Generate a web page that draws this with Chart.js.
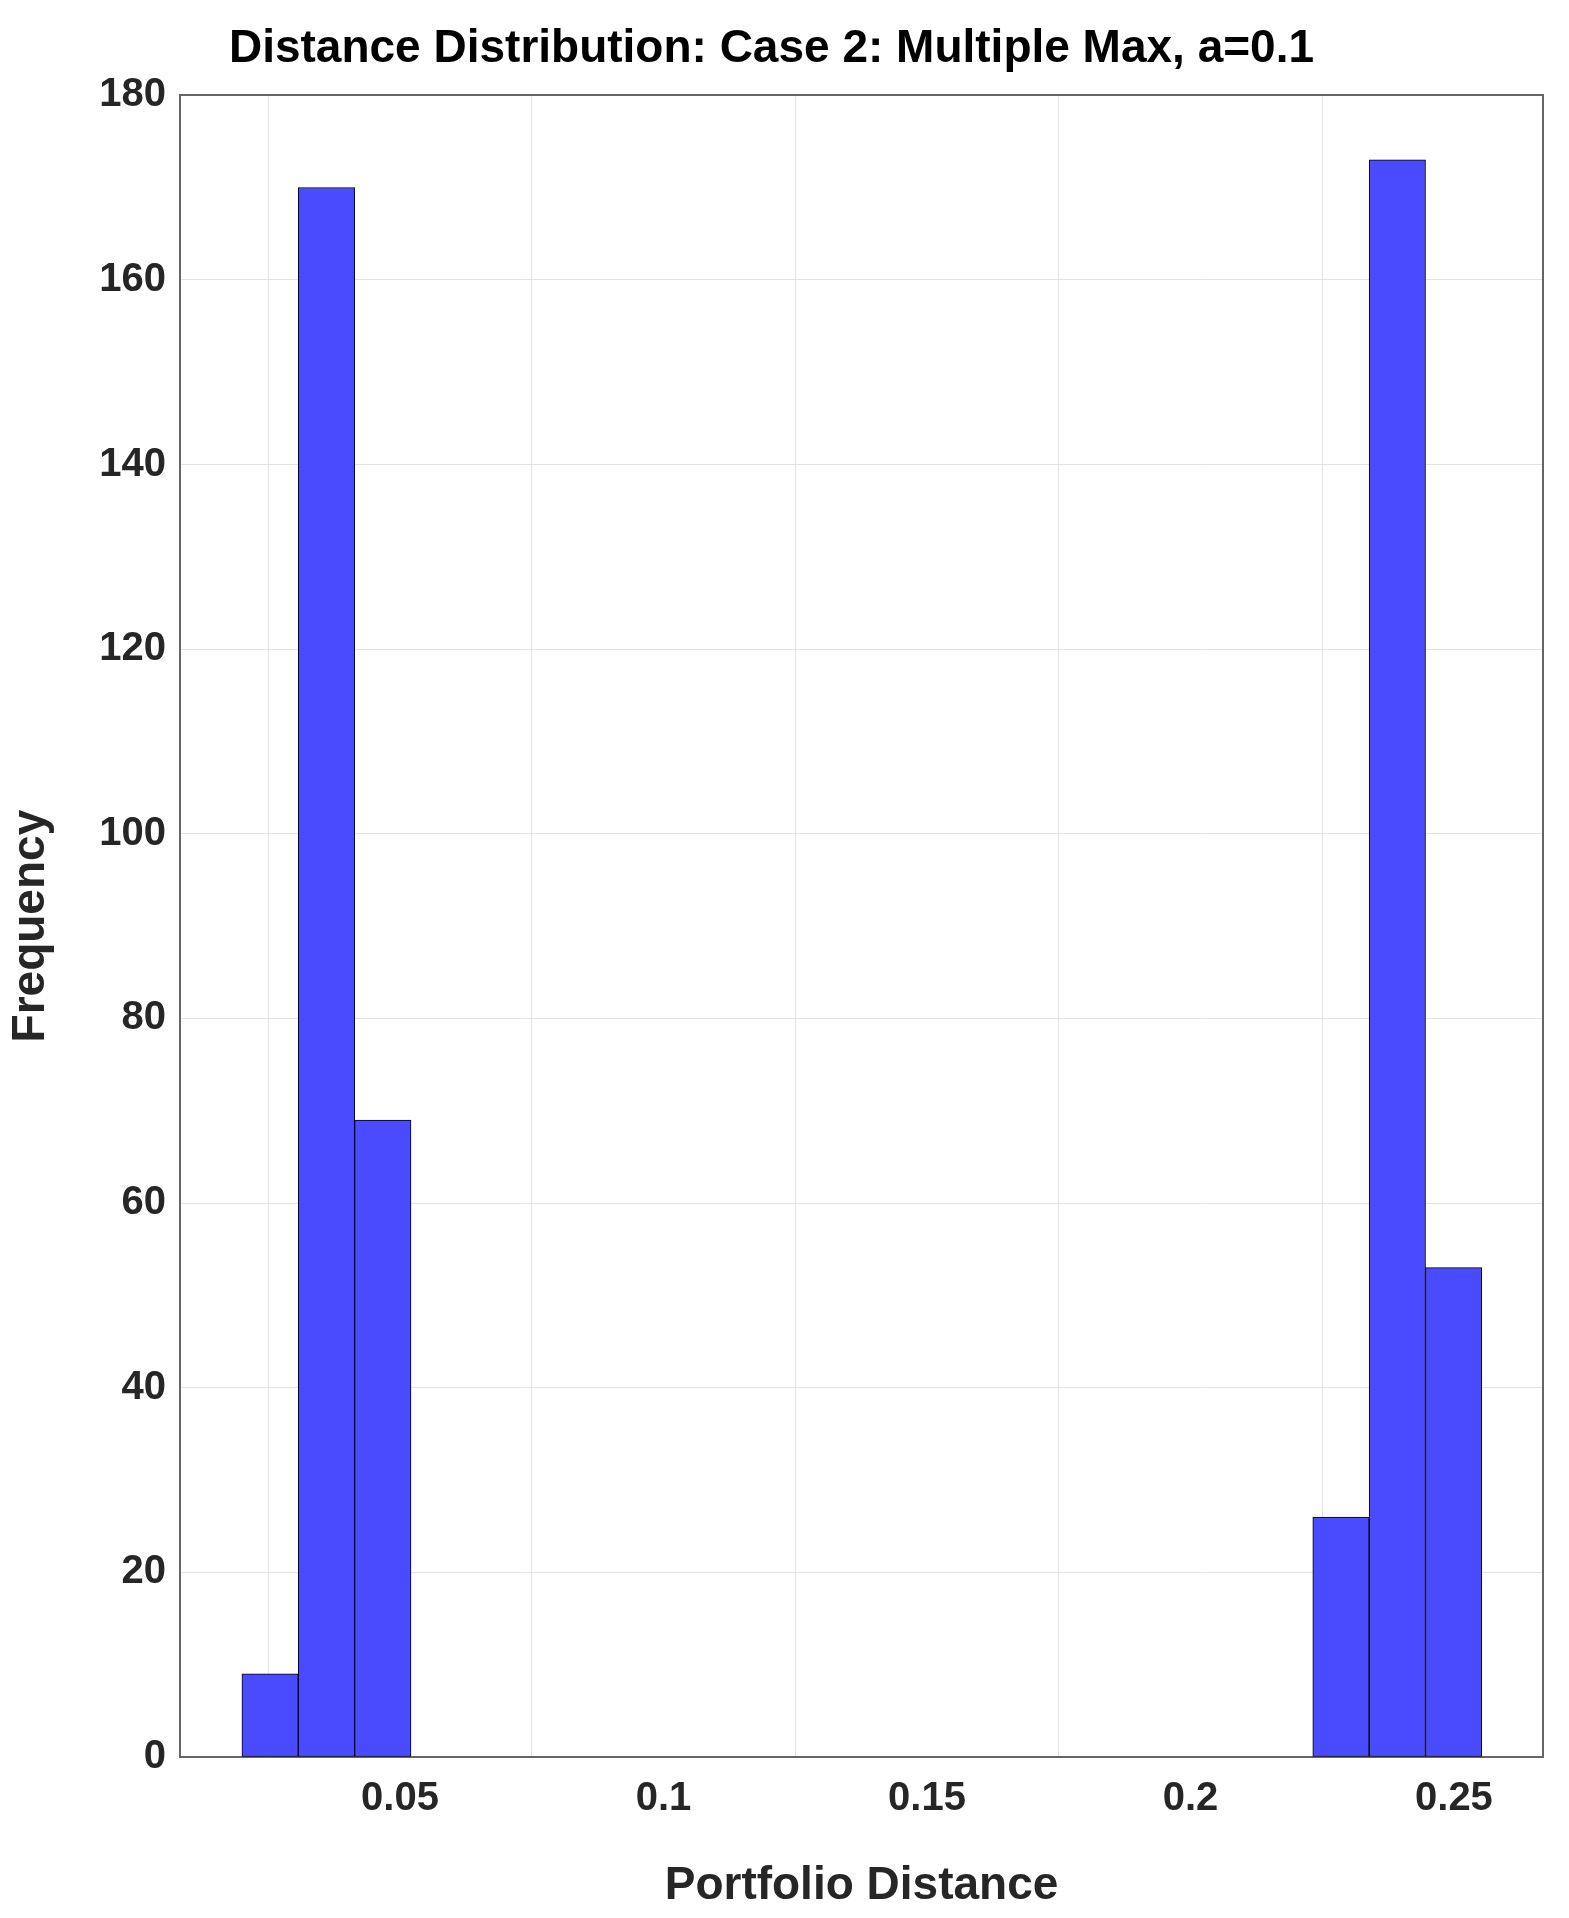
<!DOCTYPE html>
<html>
<head>
<meta charset="utf-8">
<script src="https://cdn.jsdelivr.net/npm/chart.js@4"></script>
<style>
  html, body { margin: 0; padding: 0; background: #fff; }
  #wrap { width: 1569px; height: 1918px; }
</style>
</head>
<body>
<div id="wrap"><canvas id="hist"></canvas></div>
<script>
// histogram bins (22 bins between binStart and binEnd)
const binStart = 0.0200
const binEnd = 0.2553
const counts = [9, 170, 69, 0, 0, 0, 0, 0, 0, 0, 0, 0, 0, 0, 0, 0, 0, 0, 0, 26, 173, 53]
const xTicks = [0.05, 0.1, 0.15, 0.2, 0.25]
const yTicks = [0, 20, 40, 60, 80, 100, 120, 140, 160, 180]

const binW = (binEnd - binStart) / counts.length
const points = counts.map((c, i) => ({ x: binStart + binW * (i + 0.5), y: c }))

const ink = '#262626'
const font = { family: 'Arial, "Liberation Sans", sans-serif', weight: 'bold', size: 40 }

new Chart(document.getElementById('hist'), {
  type: 'bar',
  data: {
    datasets: [{
      data: points,
      backgroundColor: '#4a4aff',
      borderColor: '#000',
      borderWidth: 1,
      borderSkipped: false,
      barPercentage: 1,
      categoryPercentage: 1,
    }],
  },
  options: {
    animation: false,
    responsive: true,
    maintainAspectRatio: false,
    layout: { padding: { top: 0, right: 26, left: 0, bottom: 0 } },
    plugins: {
      legend: { display: false },
      tooltip: { enabled: false },
      title: {
        display: true,
        text: 'Distance Distribution: Case 2: Multiple Max, a=0.1',
        color: '#000',
        font: { ...font, size: 46 },
        padding: { top: 22, bottom: 18 },
      },
    },
    scales: {
      x: {
        type: 'linear',
        offset: false,
        min: 0.00825,
        max: 0.2669,
        afterBuildTicks: (s) => { s.ticks = xTicks.map(v => ({ value: v })) },
        afterFit: (s) => { s.height = 161 },
        border: { color: '#666', width: 2 },
        grid: { color: '#e3e3e3', tickLength: 0 },
        ticks: { color: ink, font, padding: 18, callback: (v) => String(v) },
        title: { display: true, text: 'Portfolio Distance', color: ink, font: { ...font, size: 46 }, padding: { top: 4 } },
      },
      y: {
        min: 0,
        max: 180,
        afterBuildTicks: (s) => { s.ticks = yTicks.map(v => ({ value: v })) },
        afterFit: (s) => { s.width = 180 },
        border: { color: '#666', width: 2 },
        grid: { color: '#e3e3e3', tickLength: 0 },
        ticks: { color: ink, font, padding: 14 },
        title: { display: true, text: 'Frequency', color: ink, font: { ...font, size: 46 }, padding: { bottom: 6 } },
      },
      x2: {
        type: 'linear', position: 'top', min: 0.00825, max: 0.2669,
        border: { color: '#666', width: 2 },
        grid: { drawOnChartArea: false, drawTicks: false },
        ticks: { display: false },
      },
      y2: {
        position: 'right', min: 0, max: 180,
        border: { color: '#666', width: 2 },
        grid: { drawOnChartArea: false, drawTicks: false },
        ticks: { display: false },
      },
    },
  },
})
</script>
</body>
</html>
